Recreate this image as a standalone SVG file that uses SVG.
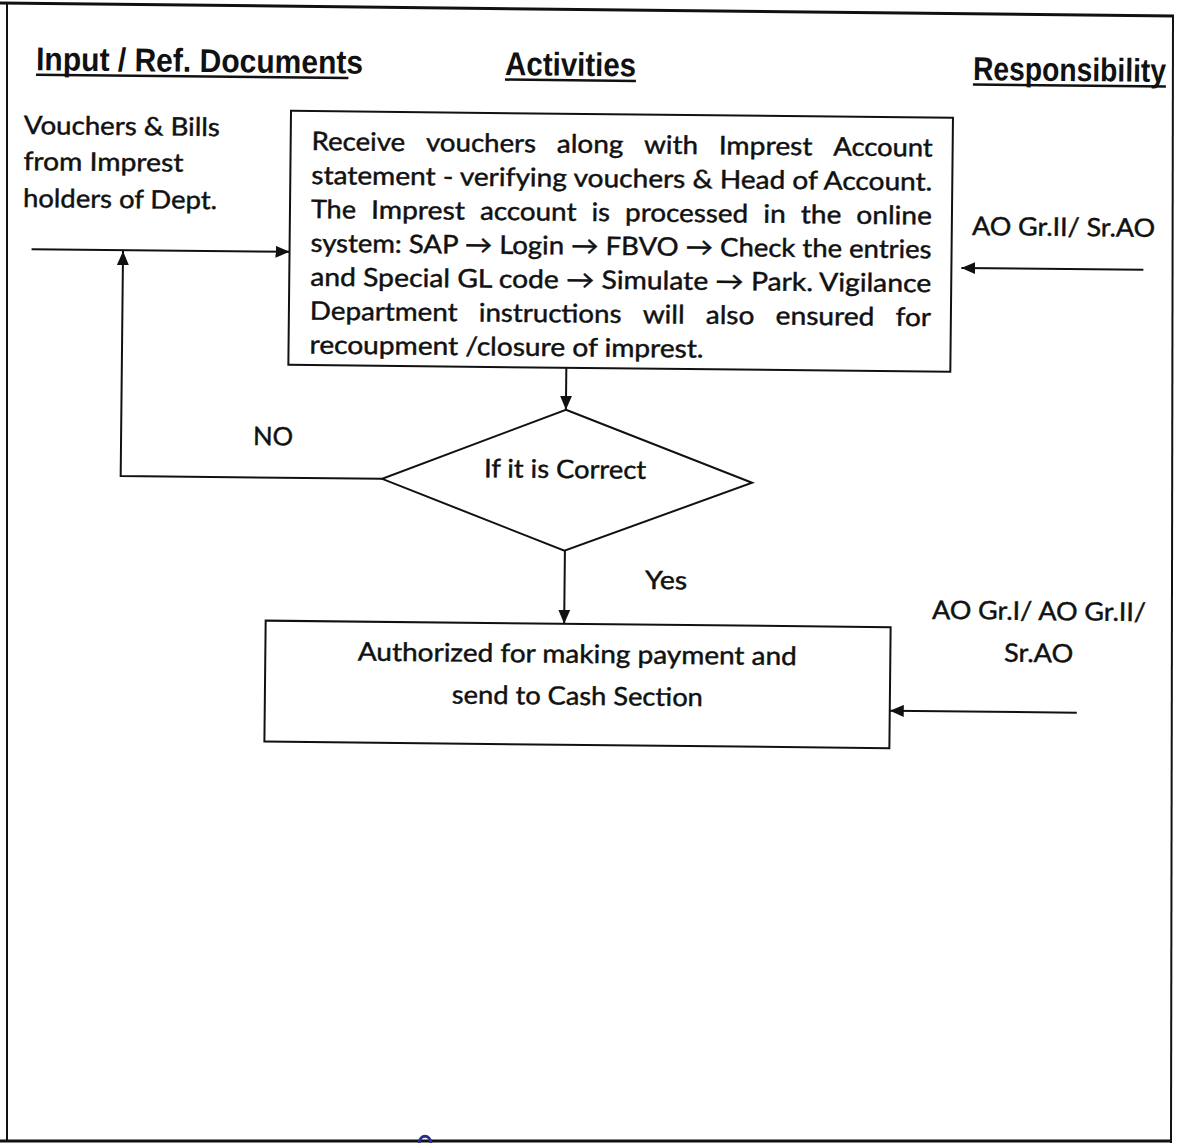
<svg xmlns="http://www.w3.org/2000/svg" width="1183" height="1143" viewBox="0 0 1183 1143">
  <style>
    .frame { stroke: #111; fill: none; }
    .box { fill: #fff; stroke: #111; stroke-width: 2; }
    .conn { stroke: #111; stroke-width: 2; fill: none; }
    .t { font-family: Lato, "Noto Sans", "DejaVu Sans", sans-serif; font-size: 25.5px; fill: #111; stroke: #111; stroke-width: 0.45; }
    .h { font-family: "Liberation Sans", Arial, sans-serif; font-weight: bold; font-size: 27px; fill: #111; }
    .ul { stroke: #111; stroke-width: 2.5; }
  </style>
  <defs>
    <marker id="arrow" viewBox="0 0 14 12" refX="14" refY="6" markerWidth="14" markerHeight="12" markerUnits="userSpaceOnUse" orient="auto">
      <path d="M0,0 L14,6 L0,12 z" fill="#111"/>
    </marker>
  </defs>

  <rect width="1183" height="1143" fill="#fff"/>

  <!-- page frame -->
  <g id="frame" class="frame">
    <line x1="0" y1="3" x2="1174" y2="16" stroke-width="3"/>
    <line x1="7" y1="3" x2="7" y2="1141" stroke-width="2"/>
    <line x1="1173" y1="15" x2="1171" y2="1143" stroke-width="2"/>
    <line x1="0" y1="1141" x2="1172" y2="1141" stroke-width="3"/>
    <path d="M419,1143 C420,1134 430,1134 431,1143" stroke="#2a2f8f" stroke-width="3"/>
  </g>

  <g id="content" transform="rotate(0.6 590 400)">
    <!-- column headings: narrow bold face, drawn tall and condensed -->
    <g id="headings">
      <text class="h" transform="translate(32.6 76) scale(1 1.22)" textLength="327" lengthAdjust="spacingAndGlyphs">Input / Ref. Documents</text>
      <line class="ul" x1="32.6" y1="80.5" x2="345" y2="80.5"/>
      <text class="h" transform="translate(501.6 76) scale(1 1.22)" textLength="131" lengthAdjust="spacingAndGlyphs">Activities</text>
      <line class="ul" x1="501.6" y1="80.5" x2="632.6" y2="80.5"/>
      <text class="h" transform="translate(969.6 76) scale(1 1.22)" textLength="193" lengthAdjust="spacingAndGlyphs">Responsibility</text>
      <line class="ul" x1="969.6" y1="80.5" x2="1162.6" y2="80.5"/>
    </g>

    <!-- input documents -->
    <g id="input-docs">
      <text class="t" x="21" y="140" textLength="196" lengthAdjust="spacingAndGlyphs">Vouchers &amp; Bills</text>
      <text class="t" x="21" y="176" textLength="160" lengthAdjust="spacingAndGlyphs">from Imprest</text>
      <text class="t" x="21" y="213" textLength="194" lengthAdjust="spacingAndGlyphs">holders of Dept.</text>
    </g>

    <!-- processing step; justified lines are set word by word -->
    <g id="process-imprest">
      <rect class="box" x="288" y="114" width="662" height="254"/>
      <g>
        <text class="t" x="309" y="153" textLength="93.6" lengthAdjust="spacingAndGlyphs">Receive</text>
        <text class="t" x="423.4" y="153" textLength="110" lengthAdjust="spacingAndGlyphs">vouchers</text>
        <text class="t" x="554.2" y="153" textLength="66.5" lengthAdjust="spacingAndGlyphs">along</text>
        <text class="t" x="641.5" y="153" textLength="53.8" lengthAdjust="spacingAndGlyphs">with</text>
        <text class="t" x="716.1" y="153" textLength="93.8" lengthAdjust="spacingAndGlyphs">Imprest</text>
        <text class="t" x="830.7" y="153" textLength="99.4" lengthAdjust="spacingAndGlyphs">Account</text>
      </g>
      <text class="t" x="309" y="187" textLength="621" lengthAdjust="spacingAndGlyphs">statement - verifying vouchers &amp; Head of Account.</text>
      <g>
        <text class="t" x="309" y="221" textLength="45" lengthAdjust="spacingAndGlyphs">The</text>
        <text class="t" x="369.1" y="221" textLength="93.8" lengthAdjust="spacingAndGlyphs">Imprest</text>
        <text class="t" x="478" y="221" textLength="96.5" lengthAdjust="spacingAndGlyphs">account</text>
        <text class="t" x="589.6" y="221" textLength="18.5" lengthAdjust="spacingAndGlyphs">is</text>
        <text class="t" x="623.2" y="221" textLength="123" lengthAdjust="spacingAndGlyphs">processed</text>
        <text class="t" x="761.3" y="221" textLength="22.5" lengthAdjust="spacingAndGlyphs">in</text>
        <text class="t" x="798.9" y="221" textLength="40.5" lengthAdjust="spacingAndGlyphs">the</text>
        <text class="t" x="854.5" y="221" textLength="75.5" lengthAdjust="spacingAndGlyphs">online</text>
      </g>
      <text class="t" x="309" y="254.8" textLength="621" lengthAdjust="spacingAndGlyphs">system: SAP → Login → FBVO → Check the entries</text>
      <text class="t" x="309" y="288.7" textLength="621" lengthAdjust="spacingAndGlyphs">and Special GL code → Simulate → Park. Vigilance</text>
      <g>
        <text class="t" x="309" y="322.6" textLength="147.7" lengthAdjust="spacingAndGlyphs">Department</text>
        <text class="t" x="478" y="322.6" textLength="142.6" lengthAdjust="spacingAndGlyphs">instructions</text>
        <text class="t" x="641.9" y="322.6" textLength="41.8" lengthAdjust="spacingAndGlyphs">will</text>
        <text class="t" x="705" y="322.6" textLength="48.5" lengthAdjust="spacingAndGlyphs">also</text>
        <text class="t" x="774.8" y="322.6" textLength="98.7" lengthAdjust="spacingAndGlyphs">ensured</text>
        <text class="t" x="894.8" y="322.6" textLength="35.2" lengthAdjust="spacingAndGlyphs">for</text>
      </g>
      <text class="t" x="309" y="356.5" textLength="394" lengthAdjust="spacingAndGlyphs">recoupment /closure of imprest.</text>
    </g>

    <!-- decision -->
    <g id="check-correct">
      <polygon class="box" points="566,410 753,481 566,551 383,481"/>
      <text class="t" x="484.8" y="478.3" textLength="162" lengthAdjust="spacingAndGlyphs">If it is Correct</text>
    </g>

    <!-- authorisation step -->
    <g id="authorize-payment">
      <rect class="box" x="268" y="624" width="625" height="121"/>
      <text class="t" x="360.5" y="663" textLength="439" lengthAdjust="spacingAndGlyphs">Authorized for making payment and</text>
      <text class="t" x="455" y="705" textLength="251" lengthAdjust="spacingAndGlyphs">send to Cash Section</text>
    </g>

    <!-- responsibilities -->
    <g id="resp-process">
      <text class="t" x="970.3" y="231" textLength="183" lengthAdjust="spacingAndGlyphs">AO Gr.II/ Sr.AO</text>
    </g>
    <g id="resp-authorize">
      <text class="t" x="934.3" y="615.3" textLength="214" lengthAdjust="spacingAndGlyphs">AO Gr.I/ AO Gr.II/</text>
      <text class="t" x="1006.8" y="657.3" textLength="69" lengthAdjust="spacingAndGlyphs">Sr.AO</text>
    </g>

    <!-- connectors -->
    <g id="connectors">
      <line class="conn" x1="30" y1="255" x2="288" y2="255" marker-end="url(#arrow)"/>
      <line class="conn" x1="566" y1="368" x2="566" y2="410" marker-end="url(#arrow)"/>
      <line class="conn" x1="566.5" y1="551" x2="566.5" y2="624" marker-end="url(#arrow)"/>
      <polyline class="conn" points="383,481 121.5,481 121.5,256" marker-end="url(#arrow)"/>
      <line class="conn" x1="1142" y1="264" x2="960" y2="264" marker-end="url(#arrow)"/>
      <line class="conn" x1="1080" y1="707.6" x2="893" y2="707.6" marker-end="url(#arrow)"/>
      <text class="t" x="253.5" y="448.5" textLength="40" lengthAdjust="spacingAndGlyphs">NO</text>
      <text class="t" x="647" y="588.3" textLength="42" lengthAdjust="spacingAndGlyphs">Yes</text>
    </g>
  </g>
</svg>
